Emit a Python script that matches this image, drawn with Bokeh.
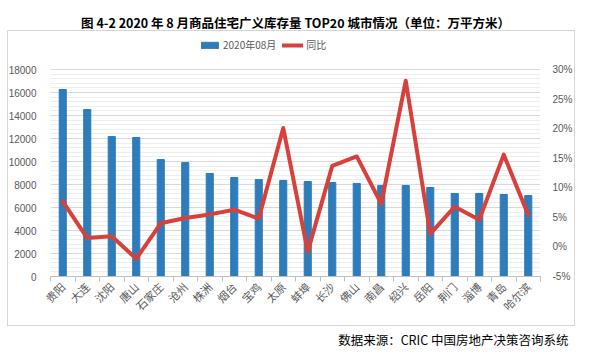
import numpy as np
from bokeh.plotting import figure
from bokeh.models import (Range1d, LinearAxis, FixedTicker, CustomJSTickFormatter,
                          PrintfTickFormatter, Legend, LegendItem, Title)
from bokeh.embed import file_html
from bokeh.resources import INLINE

cities = ["贵阳", "大连", "沈阳", "唐山", "石家庄", "沧州", "株洲", "烟台", "宝鸡", "太原",
          "蚌埠", "长沙", "佛山", "南昌", "绍兴", "岳阳", "荆门", "淄博", "青岛", "哈尔滨"]
stock = [16260, 14520, 12170, 12090, 10170, 9910, 8960, 8610, 8430, 8350,
         8260, 8170, 8090, 7910, 7910, 7740, 7220, 7220, 7130, 7040]
yoy = [7.7, 1.5, 1.8, -2.0, 4.0, 4.9, 5.5, 6.3, 4.8, 20.1,
       -0.8, 13.7, 15.3, 7.3, 28.1, 2.2, 6.8, 4.6, 15.6, 5.4]
left_ticks = list(range(0, 18001, 2000))
right_ticks = list(range(-5, 31, 5))

title_text = "图 4-2 2020 年 8 月商品住宅广义库存量 TOP20 城市情况（单位：万平方米）"
source_text = "数据来源：CRIC 中国房地产决策咨询系统"
bar_name = "2020年08月"
line_name = "同比"

BLUE = "#2E7DBA"
RED = "#D8413B"
FONT = "Noto Sans CJK SC"
GRAY = "#595959"
BOX = "#d6d6d6"

n = len(cities)
xc = np.arange(n) + 0.5

# frame: x 50..540, y 31..276 ; ticks 0..18000 occupy 69..276
frac = 245 / 207
p = figure(width=589, height=359, output_backend="svg", toolbar_location=None,
           x_range=Range1d(0, n), y_range=Range1d(0, 18000 * frac),
           min_border_left=50, min_border_right=49, min_border_top=31, min_border_bottom=83,
           outline_line_color=None, border_fill_color=None)
p.extra_y_ranges = {"pct": Range1d(-5, -5 + 35 * frac)}

# outer chart box drawn as CSS background lines on the plot's host element
g = f"linear-gradient({BOX},{BOX})"
p.styles = {
    "background-color": "white",
    "background-image": ", ".join([g] * 4),
    "background-repeat": "no-repeat",
    "background-position": "7px 30px, 7px 325px, 7px 30px, 574px 30px",
    "background-size": "568px 1px, 568px 1px, 1px 296px, 1px 296px",
}

bars = p.vbar(x=xc, top=stock, width=0.29, color=BLUE)
line = p.line(x=xc, y=yoy, y_range_name="pct", line_color=RED, line_width=4,
              line_join="round", line_cap="round")

# x axis
xa = p.xaxis[0]
xa.ticker = FixedTicker(ticks=list(xc), minor_ticks=list(range(n + 1)))
xa.formatter = CustomJSTickFormatter(args=dict(names=cities),
                                     code="return names[Math.floor(tick)] || '';")
xa.major_label_orientation = np.pi / 4
xa.major_tick_in = 0
xa.major_tick_out = 0
xa.minor_tick_in = 0
xa.minor_tick_out = 5
xa.minor_tick_line_color = "#bfbfbf"
xa.axis_line_color = "#bfbfbf"
xa.major_label_text_font = FONT
xa.major_label_text_font_size = "11px"
xa.major_label_text_color = GRAY
xa.major_label_standoff = 3

# left axis
ya = p.yaxis[0]
lt = FixedTicker(ticks=left_ticks, minor_ticks=list(range(0, 18001, 400)))
ya.ticker = lt
ya.axis_line_color = None
ya.major_tick_line_color = None
ya.minor_tick_line_color = None
ya.major_label_text_font = "Liberation Sans"
ya.major_label_text_font_size = "10px"
ya.major_label_text_color = GRAY
ya.major_label_standoff = 8

# right axis
ra = LinearAxis(y_range_name="pct", ticker=FixedTicker(ticks=right_ticks),
                formatter=PrintfTickFormatter(format="%d%%"))
ra.axis_line_color = None
ra.major_tick_line_color = None
ra.minor_tick_line_color = None
ra.major_label_text_font = "Liberation Sans"
ra.major_label_text_font_size = "10px"
ra.major_label_text_color = GRAY
ra.major_label_standoff = 6
p.add_layout(ra, "right")

p.xgrid.grid_line_color = None
p.ygrid.ticker = lt
p.ygrid.grid_line_color = "#d9d9d9"
p.ygrid.minor_grid_line_color = "#eeeeee"

legend = Legend(items=[LegendItem(label=bar_name, renderers=[bars]),
                       LegendItem(label=line_name, renderers=[line])],
                orientation="horizontal", location=(149, 224),
                border_line_color=None, background_fill_alpha=0,
                label_text_font=FONT, label_text_font_size="10px",
                label_text_color=GRAY, glyph_width=21, glyph_height=8,
                spacing=6, padding=0, margin=0, label_standoff=3)
p.add_layout(legend, "center")

p.title = Title(text=title_text, align="center", text_font=FONT,
                text_font_style="bold", text_font_size="12.5px", text_color="black",
                standoff=0, offset=0)

src = Title(text=source_text, align="right", text_font=FONT, text_font_style="normal",
            text_font_size="12.5px", text_color="black", offset=-28)
p.add_layout(src, "below")

open("out.html", "w").write(file_html(p, INLINE))
